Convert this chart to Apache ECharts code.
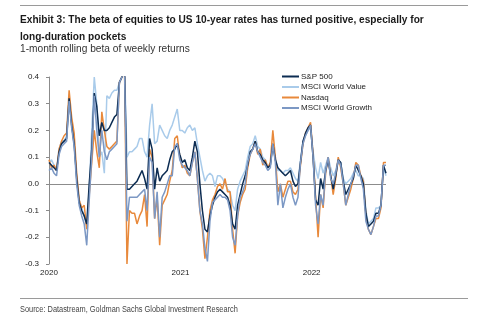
<!DOCTYPE html>
<html>
<head>
<meta charset="utf-8">
<script src="https://cdn.jsdelivr.net/npm/echarts@6/dist/echarts.min.js"></script>
<style>
  html, body { margin: 0; padding: 0; background: #fff; }
  #chart { width: 479px; height: 323px; }
</style>
</head>
<body>
<div id="chart"></div>
<script>
// Weekly observations starting at the first week of 2020
const startDate = Date.UTC(2020, 0, 1);
const weekMs = 7 * 24 * 3600 * 1000;

const seriesNames = ['S&P 500', 'MSCI World Value', 'Nasdaq', 'MSCI World Growth'];

const sp500 = [
  0.08, 0.07, 0.06, 0.05, 0.12, 0.15, 0.16, 0.17, 0.32, 0.22,
  0.15, 0.02, -0.07, -0.10, -0.12, -0.15, 0.00, 0.13, 0.34, 0.29,
  0.18, 0.23, 0.20, 0.20, 0.21, 0.23, 0.25, 0.26, 0.38, 0.40,
  0.45, -0.02, -0.02, -0.01, 0.00, 0.01, 0.03, 0.05, 0.02, -0.02,
  0.17, 0.13, -0.02, 0.06, 0.01, 0.03, 0.04, 0.05, 0.09, 0.12,
  0.13, 0.15, 0.11, 0.08, 0.09, 0.06, 0.05, 0.10, 0.16, 0.12,
  0.00, -0.10, -0.17, -0.18, -0.12, -0.08, -0.05, -0.03, -0.02, -0.03,
  -0.04, -0.05, -0.08, -0.15, -0.17, -0.08, -0.04, 0.00, 0.03, 0.07,
  0.12, 0.13, 0.16, 0.12, 0.11, 0.09, 0.08, 0.06, 0.07, 0.15,
  0.09, 0.06, 0.05, 0.04, 0.03, 0.04, 0.05, 0.01, -0.01, 0.00,
  0.08, 0.16, 0.19, 0.21, 0.22, 0.10, -0.06, -0.08, 0.02, -0.02,
  0.05, 0.09, 0.03, -0.02, 0.03, 0.09, 0.08, 0.01, -0.04, -0.02,
  0.00, 0.02, 0.07, 0.05, 0.03, 0.00, -0.11, -0.16, -0.15, -0.14,
  -0.11, -0.11, -0.08, 0.07, 0.04
];

const worldValue = [
  0.08, 0.09, 0.07, 0.05, 0.13, 0.16, 0.16, 0.18, 0.33, 0.23,
  0.16, 0.03, -0.06, -0.09, -0.12, -0.16, -0.02, 0.20, 0.40, 0.30,
  0.10, 0.12, 0.04, 0.33, 0.32, 0.34, 0.35, 0.35, 0.38, 0.40,
  0.45, 0.10, 0.12, 0.12, 0.13, 0.14, 0.17, 0.17, 0.12, 0.10,
  0.22, 0.30, 0.15, 0.16, 0.22, 0.20, 0.18, 0.17, 0.20, 0.22,
  0.25, 0.28, 0.20, 0.20, 0.19, 0.21, 0.22, 0.20, 0.21, 0.15,
  0.10, 0.05, 0.01, 0.03, 0.04, 0.03, -0.01, 0.03, 0.03, 0.02,
  0.00, -0.02, -0.03, -0.08, -0.10, -0.02, 0.01, 0.03, 0.05, 0.10,
  0.14, 0.15, 0.18, 0.14, 0.13, 0.10, 0.09, 0.06, 0.07, 0.14,
  0.10, 0.05, 0.05, 0.04, 0.05, 0.05, 0.06, 0.04, 0.02, 0.01,
  0.09, 0.16, 0.18, 0.20, 0.21, 0.12, 0.06, 0.02, 0.08, 0.04,
  0.07, 0.10, 0.06, 0.03, 0.05, 0.09, 0.08, 0.02, 0.00, 0.01,
  0.02, 0.04, 0.05, 0.03, 0.03, 0.02, -0.10, -0.15, -0.14, -0.13,
  -0.09, -0.09, -0.08, 0.06, 0.03
];

const nasdaq = [
  0.09, 0.06, 0.07, 0.05, 0.13, 0.16, 0.18, 0.19, 0.35, 0.25,
  0.19, 0.04, -0.06, -0.09, -0.08, -0.17, -0.04, 0.08, 0.20, 0.12,
  0.06, 0.27, 0.20, 0.14, 0.13, 0.14, 0.15, 0.16, 0.38, 0.40,
  0.45, -0.30, -0.10, -0.11, -0.11, -0.15, -0.12, -0.10, -0.04, -0.16,
  0.13, 0.10, -0.13, -0.05, -0.23, -0.08, -0.06, -0.04, 0.01, 0.05,
  0.17, 0.18, 0.10, 0.06, 0.07, 0.04, 0.03, 0.08, 0.12, 0.02,
  -0.10, -0.17, -0.28, -0.20, -0.10, -0.06, -0.04, -0.01, 0.00, -0.02,
  0.02, -0.03, -0.03, -0.17, -0.26, -0.12, -0.07, -0.04, -0.02, 0.06,
  0.11, 0.13, 0.16, 0.11, 0.13, 0.07, 0.09, 0.06, 0.08, 0.20,
  0.10, -0.03, 0.00, -0.05, -0.02, 0.01, 0.01, -0.03, -0.04, -0.02,
  0.07, 0.15, 0.19, 0.21, 0.23, 0.11, -0.05, -0.20, -0.04, -0.09,
  0.04, 0.10, 0.03, -0.04, 0.02, 0.10, 0.06, 0.00, -0.08, -0.05,
  -0.02, 0.02, 0.08, 0.07, 0.03, 0.01, -0.12, -0.17, -0.19, -0.16,
  -0.13, -0.13, -0.09, 0.08, 0.08
];

const worldGrowth = [
  0.05, 0.06, 0.04, 0.03, 0.11, 0.14, 0.15, 0.16, 0.31, 0.21,
  0.14, 0.00, -0.08, -0.12, -0.15, -0.23, -0.06, 0.10, 0.33, 0.20,
  0.10, 0.20, 0.12, 0.09, 0.12, 0.13, 0.14, 0.15, 0.38, 0.40,
  0.45, -0.14, -0.05, -0.05, -0.05, -0.05, -0.04, -0.03, -0.02, -0.10,
  0.10, 0.08, -0.13, -0.03, -0.20, -0.05, -0.03, 0.00, 0.03, 0.03,
  0.14, 0.15, 0.09, 0.07, 0.06, 0.05, 0.03, 0.08, 0.12, 0.02,
  -0.10, -0.15, -0.24, -0.29, -0.14, -0.07, -0.06, -0.05, -0.04, -0.05,
  -0.05, -0.06, -0.10, -0.20, -0.23, -0.12, -0.05, -0.03, 0.00, 0.08,
  0.11, 0.13, 0.15, 0.12, 0.10, 0.08, 0.07, 0.05, 0.06, 0.15,
  0.08, -0.08, 0.00, -0.09, -0.05, -0.02, 0.00, -0.05, -0.08, -0.05,
  0.08, 0.15, 0.18, 0.20, 0.22, 0.10, -0.08, -0.15, -0.04, -0.08,
  0.05, 0.10, 0.02, 0.00, 0.04, 0.09, 0.07, 0.00, -0.08, -0.04,
  0.00, 0.03, 0.07, 0.07, 0.02, -0.02, -0.14, -0.17, -0.19, -0.16,
  -0.12, -0.12, -0.08, 0.07, 0.07
];

const yearTicks = [Date.UTC(2020, 0, 1), Date.UTC(2021, 0, 1), Date.UTC(2022, 0, 1)];

const colors = {
  'S&P 500': '#0c2c52',
  'MSCI World Value': '#a9cbea',
  'Nasdaq': '#e8893b',
  'MSCI World Growth': '#7c98c4'
};

function toPoints(values) {
  return values.map((v, i) => [startDate + i * weekMs, v]);
}

const lastDate = startDate + (sp500.length - 1) * weekMs;

const plain = '"Liberation Sans", Arial, sans-serif';

// drawing order: value underneath, growth on top
const drawOrder = [
  ['MSCI World Value', worldValue],
  ['Nasdaq', nasdaq],
  ['S&P 500', sp500],
  ['MSCI World Growth', worldGrowth]
];

const series = drawOrder.map(([name, values], k) => ({
  name: name,
  type: 'line',
  data: toPoints(values),
  showSymbol: false,
  symbol: 'none',
  clip: true,
  z: 2 + k,
  lineStyle: { color: colors[name], width: 1.5 },
  itemStyle: { color: colors[name] },
  emphasis: { disabled: true },
  markLine: k === 0 ? {
    silent: true,
    symbol: 'none',
    label: { show: false },
    lineStyle: { color: '#8c8c8c', width: 1, type: 'solid' },
    data: [{ yAxis: 0 }],
    z: 1
  } : undefined
}));

// condensed header / footer text, left aligned at (x, y)
function headerText(x, y, text, font, fill, squeeze) {
  return {
    type: 'text', x: x, y: y, scaleX: squeeze, scaleY: 1, silent: true,
    style: { text: text, x: 0, y: 0, font: font, fill: fill }
  };
}

const chart = echarts.init(document.getElementById('chart'), null, { renderer: 'canvas' });

chart.setOption({
  animation: false,
  backgroundColor: '#ffffff',
  grid: { left: 49, right: 93, top: 77, bottom: 59, containLabel: false },
  legend: {
    data: seriesNames.map(n => ({ name: n, icon: 'rect' })),
    orient: 'vertical',
    left: 277,
    top: 67.5,
    itemWidth: 17,
    itemHeight: 2,
    itemGap: 2.5,
    selectedMode: false,
    textStyle: { fontFamily: plain, fontSize: 8, color: '#222', padding: [0, 0, 0, -3], lineHeight: 8 }
  },
  xAxis: {
    type: 'value',
    min: startDate,
    max: lastDate,
    axisLine: { show: false },
    axisTick: { show: false },
    splitLine: { show: false },
    axisLabel: {
      customValues: yearTicks,
      formatter: v => String(new Date(v).getUTCFullYear()),
      fontFamily: plain,
      fontSize: 8,
      color: '#222',
      margin: 5,
      showMinLabel: true,
      showMaxLabel: true
    }
  },
  yAxis: {
    type: 'value',
    min: -0.3,
    max: 0.4,
    interval: 0.1,
    axisLine: { show: true, lineStyle: { color: '#8c8c8c', width: 1 } },
    axisTick: { show: true, length: 3, lineStyle: { color: '#8c8c8c' } },
    splitLine: { show: false },
    axisLabel: {
      formatter: v => v.toFixed(1),
      fontFamily: plain,
      fontSize: 8,
      color: '#222',
      margin: 10
    }
  },
  series: series,
  graphic: [
    { type: 'rect', shape: { x: 20, y: 5, width: 448, height: 1 }, style: { fill: '#9a9a9a' }, silent: true },
    headerText(20, 14, 'Exhibit 3: The beta of equities to US 10-year rates has turned positive, especially for', 'bold 11px ' + plain, '#1a1a1a', 0.92),
    headerText(20, 31.5, 'long-duration pockets', 'bold 11px ' + plain, '#1a1a1a', 0.92),
    headerText(20, 44, '1-month rolling beta of weekly returns', '10.5px ' + plain, '#333', 0.97),
    { type: 'rect', shape: { x: 20, y: 298, width: 448, height: 1 }, style: { fill: '#9a9a9a' }, silent: true },
    headerText(20, 305, 'Source: Datastream, Goldman Sachs Global Investment Research', '8.5px ' + plain, '#444', 0.87)
  ]
});
</script>
</body>
</html>
